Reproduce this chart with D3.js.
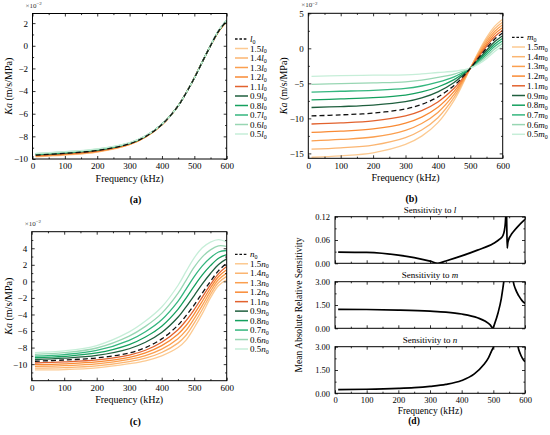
<!DOCTYPE html>
<html><head><meta charset="utf-8">
<script src="https://cdn.jsdelivr.net/npm/d3@7"></script>
<style>body{margin:0;background:#fff}svg{display:block} text{font-family:"Liberation Serif","DejaVu Serif",serif}</style>
</head><body>
<script>
// ---------- data ----------
const freqKa = [10,100,200,300,350,400,450,475,500,525,550,575,600];
const factorLabels = ["1.5","1.4","1.3","1.2","1.1","0.9","0.8","0.7","0.6","0.5"];
const lineColors = ["#fcca92","#fbb571","#fb9f4f","#f98a34","#e2622e","#1f5f3e","#14a05e","#34b67e","#98d6b3","#c6eed8"];
const xTicksKa = [0,100,200,300,400,500,600];

// (a) varying l
const kaL15 = [-9.80,-9.65,-9.39,-8.74,-8.06,-6.98,-5.30,-4.15,-2.85,-1.40,-0.02,1.25,2.12];
const kaL14 = [-9.77,-9.62,-9.36,-8.72,-8.05,-6.97,-5.30,-4.15,-2.85,-1.40,-0.01,1.26,2.14];
const kaL13 = [-9.74,-9.59,-9.33,-8.70,-8.04,-6.97,-5.30,-4.15,-2.85,-1.40,-0.01,1.27,2.16];
const kaL12 = [-9.71,-9.56,-9.30,-8.69,-8.02,-6.96,-5.30,-4.15,-2.85,-1.40,0.00,1.28,2.17];
const kaL11 = [-9.68,-9.53,-9.28,-8.67,-8.01,-6.96,-5.30,-4.15,-2.85,-1.40,0.00,1.29,2.19];
const kaL10 = [-9.65,-9.50,-9.25,-8.65,-8.00,-6.95,-5.30,-4.15,-2.85,-1.40,0.00,1.30,2.20];
const kaL09 = [-9.62,-9.47,-9.22,-8.63,-7.99,-6.94,-5.30,-4.15,-2.85,-1.40,0.00,1.31,2.21];
const kaL08 = [-9.59,-9.44,-9.20,-8.61,-7.98,-6.94,-5.30,-4.15,-2.85,-1.40,0.01,1.32,2.23];
const kaL07 = [-9.56,-9.41,-9.17,-8.60,-7.96,-6.93,-5.30,-4.15,-2.85,-1.40,0.01,1.33,2.24];
const kaL06 = [-9.53,-9.38,-9.14,-8.58,-7.95,-6.93,-5.30,-4.15,-2.85,-1.40,0.01,1.34,2.26];
const kaL05 = [-9.50,-9.35,-9.11,-8.56,-7.94,-6.92,-5.30,-4.15,-2.85,-1.40,0.02,1.35,2.28];

// (b) varying m
const kaM15 = [-15.55,-15.34,-14.91,-13.72,-12.54,-10.61,-7.42,-5.27,-2.85,-0.52,1.53,3.13,4.15];
const kaM14 = [-14.40,-14.20,-13.81,-12.74,-11.66,-9.90,-7.01,-5.05,-2.85,-0.69,1.24,2.77,3.77];
const kaM13 = [-13.20,-13.01,-12.66,-11.70,-10.73,-9.15,-6.58,-4.82,-2.85,-0.87,0.92,2.40,3.37];
const kaM12 = [-12.00,-11.83,-11.51,-10.67,-9.81,-8.41,-6.15,-4.60,-2.85,-1.05,0.61,2.03,2.98];
const kaM11 = [-10.80,-10.64,-10.35,-9.64,-8.89,-7.66,-5.71,-4.37,-2.85,-1.23,0.30,1.66,2.58];
const kaM10 = [-9.65,-9.50,-9.25,-8.65,-8.00,-6.95,-5.30,-4.15,-2.85,-1.40,0.00,1.30,2.20];
const kaM09 = [-8.45,-8.31,-8.10,-7.62,-7.08,-6.21,-4.87,-3.92,-2.85,-1.58,-0.31,0.93,1.80];
const kaM08 = [-7.35,-7.22,-7.04,-6.67,-6.23,-5.52,-4.47,-3.71,-2.85,-1.75,-0.60,0.59,1.44];
const kaM07 = [-6.25,-6.13,-5.99,-5.73,-5.38,-4.84,-4.08,-3.50,-2.85,-1.91,-0.88,0.25,1.08];
const kaM06 = [-5.15,-5.04,-4.93,-4.78,-4.53,-4.16,-3.68,-3.29,-2.85,-2.08,-1.17,-0.10,0.71];
const kaM05 = [-4.00,-3.91,-3.83,-3.79,-3.65,-3.45,-3.27,-3.08,-2.85,-2.25,-1.47,-0.45,0.34];

// (c) varying n
const kaN15 = [-10.70,-10.65,-10.45,-9.95,-9.60,-9.00,-8.00,-7.10,-5.60,-3.90,-2.00,-0.50,0.20];
const kaN14 = [-10.49,-10.42,-10.21,-9.69,-9.28,-8.59,-7.46,-6.51,-5.05,-3.40,-1.60,-0.14,0.60];
const kaN13 = [-10.28,-10.19,-9.97,-9.43,-8.96,-8.18,-6.92,-5.92,-4.50,-2.90,-1.20,0.22,1.00];
const kaN12 = [-10.07,-9.96,-9.73,-9.17,-8.64,-7.77,-6.38,-5.33,-3.95,-2.40,-0.80,0.58,1.40];
const kaN11 = [-9.86,-9.73,-9.49,-8.91,-8.32,-7.36,-5.84,-4.74,-3.40,-1.90,-0.40,0.94,1.80];
const kaN10 = [-9.65,-9.50,-9.25,-8.65,-8.00,-6.95,-5.30,-4.15,-2.85,-1.40,0.00,1.30,2.20];
const kaN09 = [-9.44,-9.28,-8.95,-8.14,-7.36,-6.18,-4.34,-3.08,-1.71,-0.31,0.95,2.05,2.71];
const kaN08 = [-9.23,-9.06,-8.65,-7.63,-6.72,-5.41,-3.38,-2.01,-0.57,0.78,1.90,2.80,3.22];
const kaN07 = [-9.02,-8.84,-8.35,-7.12,-6.08,-4.64,-2.42,-0.94,0.57,1.87,2.85,3.55,3.73];
const kaN06 = [-8.81,-8.62,-8.05,-6.61,-5.44,-3.87,-1.46,0.13,1.71,2.96,3.80,4.30,4.24];
const kaN05 = [-8.60,-8.40,-7.75,-6.10,-4.80,-3.10,-0.50,1.20,2.85,4.05,4.75,5.05,4.75];

// (d) sensitivities (null = break at the pole)
const sensFreqL = [10,100,200,250,300,325,350,400,450,500,520,530,535,538,540,540.5,541.5,542.8,544,545.3,548,555,565,580,600];
const sensL     = [0.029,0.028,0.021,0.0145,0.0055,0.0,0.006,0.019,0.034,0.051,0.062,0.071,0.085,0.105,0.135,null,0.14,0.08,0.039,0.05,0.06,0.072,0.083,0.097,0.113];
const sensFreqM = [10,100,200,300,350,400,450,475,490,498,505,515,525,533,538,548,558,563,570,580,590,600];
const sensM     = [1.22,1.21,1.17,1.10,1.04,0.92,0.68,0.45,0.22,0.02,0.35,1.00,1.90,3.00,3.80,null,3.80,3.00,2.52,2.10,1.80,1.60];
const sensFreqN = [10,100,200,250,300,350,400,440,470,485,495,502,506,540,574,578,585,592,600];
const sensN     = [0.24,0.26,0.32,0.37,0.45,0.57,0.82,1.25,1.85,2.30,2.75,3.10,3.60,null,3.60,3.00,2.55,2.25,2.03];

// ---------- drawing ----------
const FONT = "Liberation Serif, DejaVu Serif, serif";
const W = 550, H = 435;
const svg = d3.select("body").append("svg").attr("width", W).attr("height", H);
svg.append("rect").attr("width", W).attr("height", H).attr("fill", "#fff");
const defs = svg.append("defs");
let clipId = 0;

function range(a, b, s) { const r = []; for (let v = a; v <= b + 1e-9; v += s) r.push(+v.toFixed(6)); return r; }

function frameAxes(g, x, y, o) {
  const [X0, X1] = x.range(); const [Y1, Y0] = y.range();
  const style = sel => { sel.select(".domain").remove();
    sel.attr("font-family", FONT);
    sel.selectAll("line").attr("stroke", "#000").attr("stroke-width", 0.8);
    sel.selectAll("text").attr("font-size", o.tickFont || 9).attr("fill", "#000"); };
  const xf = o.showX ? d3.format("d") : "";
  g.append("g").attr("transform", `translate(0,${Y1})`).call(d3.axisBottom(x).tickValues(o.xMajor).tickSize(-3).tickPadding(4).tickFormat(xf)).call(style);
  g.append("g").attr("transform", `translate(0,${Y1})`).call(d3.axisBottom(x).tickValues(o.xMinor).tickSize(-1.6).tickFormat("")).call(style);
  g.append("g").attr("transform", `translate(0,${Y0})`).call(d3.axisTop(x).tickValues(o.xMajor).tickSize(-3).tickFormat("")).call(style);
  g.append("g").attr("transform", `translate(0,${Y0})`).call(d3.axisTop(x).tickValues(o.xMinor).tickSize(-1.6).tickFormat("")).call(style);
  g.append("g").attr("transform", `translate(${X0},0)`).call(d3.axisLeft(y).tickValues(o.yMajor).tickSize(-3).tickPadding(o.yPad || 4.5).tickFormat(o.yFmt)).call(style);
  g.append("g").attr("transform", `translate(${X0},0)`).call(d3.axisLeft(y).tickValues(o.yMinor).tickSize(-1.6).tickFormat("")).call(style);
  g.append("g").attr("transform", `translate(${X1},0)`).call(d3.axisRight(y).tickValues(o.yMajor).tickSize(-3).tickFormat("")).call(style);
  g.append("g").attr("transform", `translate(${X1},0)`).call(d3.axisRight(y).tickValues(o.yMinor).tickSize(-1.6).tickFormat("")).call(style);
  g.append("rect").attr("x", X0).attr("y", Y0).attr("width", X1 - X0).attr("height", Y1 - Y0)
    .attr("fill", "none").attr("stroke", "#000").attr("stroke-width", 1);
}

function clipRect(x, y) {
  const id = "clip" + (clipId++);
  const [X0, X1] = x.range(); const [Y1, Y0] = y.range();
  defs.append("clipPath").attr("id", id).append("rect").attr("x", X0).attr("y", Y0).attr("width", X1 - X0).attr("height", Y1 - Y0);
  return `url(#${id})`;
}

function kaPanel(p) {
  const g = svg.append("g");
  const x = d3.scaleLinear().domain([0, 600]).range([p.x0, p.x1]);
  const y = d3.scaleLinear().domain(p.yDomain).range([p.y1, p.y0]);
  const line = d3.line().x(d => x(d[0])).y(d => y(d[1])).curve(d3.curveCatmullRom.alpha(0.5));
  const lg = g.append("g").attr("clip-path", clipRect(x, y));
  [0,1,2,3,4,5,6,7,8,9].forEach(i => {
    lg.append("path").attr("d", line(freqKa.map((f, j) => [f, p.series[i][j]])))
      .attr("fill", "none").attr("stroke", lineColors[i]).attr("stroke-width", 1.3);
  });
  lg.append("path").attr("d", line(freqKa.map((f, j) => [f, p.base[j]])))
    .attr("fill", "none").attr("stroke", "#111").attr("stroke-width", 1.3).attr("stroke-dasharray", "5,3");
  frameAxes(g, x, y, { xMajor: xTicksKa, xMinor: range(50, 550, 100), yMajor: p.yMajor, yMinor: p.yMinor, showX: true, yFmt: d3.format("d") });
  // exponent
  const ex = g.append("text").attr("x", p.x0 - 7).attr("y", p.y0 - 6).attr("font-size", 7).attr("fill", "#333");
  ex.append("tspan").text("×10");
  ex.append("tspan").attr("dy", -2.5).attr("font-size", 5).text("−2");
  // axis titles
  const yl = g.append("text").attr("transform", `translate(${p.yLabX},${(p.y0 + p.y1) / 2}) rotate(-90)`)
    .attr("text-anchor", "middle").attr("font-size", 10);
  yl.append("tspan").attr("font-style", "italic").text("Ka");
  yl.append("tspan").text(" (m/s/MPa)");
  g.append("text").attr("x", (p.x0 + p.x1) / 2).attr("y", p.y1 + 22.5).attr("text-anchor", "middle").attr("font-size", 10).text("Frequency (kHz)");
  g.append("text").attr("x", (p.x0 + p.x1) / 2 + 6).attr("y", p.y1 + 44).attr("text-anchor", "middle")
    .attr("font-size", 10).attr("font-weight", "bold").text(p.tag);
  // legend
  const lgd = g.append("g");
  for (let r = 0; r < 11; r++) {
    const yy = p.ly + r * p.ldy;
    const isBase = r === 0;
    lgd.append("line").attr("x1", p.lx).attr("x2", p.lx + 13).attr("y1", yy).attr("y2", yy)
      .attr("stroke", isBase ? "#111" : lineColors[r - 1]).attr("stroke-width", isBase ? 1.3 : 1.5)
      .attr("stroke-dasharray", isBase ? "2.6,1.8" : null);
    const t = lgd.append("text").attr("x", p.lx + 15).attr("y", yy + 3).attr("font-size", 9);
    if (!isBase) t.append("tspan").text(factorLabels[r - 1]);
    t.append("tspan").attr("font-style", "italic").text(p.sym);
    t.append("tspan").attr("font-size", 6).attr("dy", 1.5).text("0");
  }
}

kaPanel({ x0: 32.5, x1: 226.7, y0: 13.5, y1: 159, yDomain: [-10, 2.85],
  yMajor: range(-10, 2, 2), yMinor: range(-9, 1, 2), yLabX: 12,
  series: [kaL15, kaL14, kaL13, kaL12, kaL11, kaL09, kaL08, kaL07, kaL06, kaL05], base: kaL10,
  sym: "l", lx: 235, ly: 39, ldy: 9.5, tag: "(a)" });
kaPanel({ x0: 308.3, x1: 502.7, y0: 13.3, y1: 158.3, yDomain: [-15.7, 5],
  yMajor: [-15, -10, -5, 0, 5], yMinor: [-12.5, -7.5, -2.5, 2.5], yLabX: 287,
  series: [kaM15, kaM14, kaM13, kaM12, kaM11, kaM09, kaM08, kaM07, kaM06, kaM05], base: kaM10,
  sym: "m", lx: 512, ly: 37.3, ldy: 9.7, tag: "(b)" });
kaPanel({ x0: 31.7, x1: 226.7, y0: 231.7, y1: 380.7, yDomain: [-12, 6],
  yMajor: range(-10, 4, 2), yMinor: range(-11, 5, 2), yLabX: 12,
  series: [kaN15, kaN14, kaN13, kaN12, kaN11, kaN09, kaN08, kaN07, kaN06, kaN05], base: kaN10,
  sym: "n", lx: 235, ly: 254.3, ldy: 9.47, tag: "(c)" });

// panel (d)
const dX0 = 335, dX1 = 525;
const xD = d3.scaleLinear().domain([0, 600]).range([dX0, dX1]);
const subs = [
  { y0: 216.7, y1: 263.3, dom: [0, 0.12], major: [0, 0.06, 0.12], minor: [0.03, 0.09], f: sensFreqL, v: sensL, sym: "l" },
  { y0: 281.7, y1: 328.3, dom: [0, 3], major: [0, 1.5, 3], minor: [0.75, 2.25], f: sensFreqM, v: sensM, sym: "m" },
  { y0: 346.7, y1: 393.3, dom: [0, 3], major: [0, 1.5, 3], minor: [0.75, 2.25], f: sensFreqN, v: sensN, sym: "n" }
];
subs.forEach((s, i) => {
  const g = svg.append("g");
  const y = d3.scaleLinear().domain(s.dom).range([s.y1, s.y0]);
  const line = d3.line().defined(d => d[1] != null).x(d => xD(d[0])).y(d => y(d[1])).curve(d3.curveMonotoneX);
  g.append("g").attr("clip-path", clipRect(xD, y)).append("path")
    .attr("d", line(s.f.map((f, j) => [f, s.v[j]])))
    .attr("fill", "none").attr("stroke", "#000").attr("stroke-width", 1.7);
  frameAxes(g, xD, y, { xMajor: xTicksKa, xMinor: range(50, 550, 100), yMajor: s.major, yMinor: s.minor,
    showX: i === 2, yFmt: d3.format(".2f"), tickFont: 8.5, yPad: 5 });
  const t = g.append("text").attr("x", (dX0 + dX1) / 2).attr("y", s.y0 - 3.5).attr("text-anchor", "middle").attr("font-size", 9);
  t.append("tspan").text("Sensitivity to ");
  t.append("tspan").attr("font-style", "italic").text(s.sym);
});
svg.append("text").attr("transform", `translate(302,305) rotate(-90)`).attr("text-anchor", "middle")
  .attr("font-size", 9.5).text("Mean Absolute Relative Sensitivity");
svg.append("text").attr("x", (dX0 + dX1) / 2).attr("y", 413.5).attr("text-anchor", "middle").attr("font-size", 9.5).text("Frequency (kHz)");
svg.append("text").attr("x", 414).attr("y", 424).attr("text-anchor", "middle").attr("font-size", 9.5).attr("font-weight", "bold").text("(d)");
svg.selectAll("text").attr("font-family", FONT);
</script>
</body></html>
